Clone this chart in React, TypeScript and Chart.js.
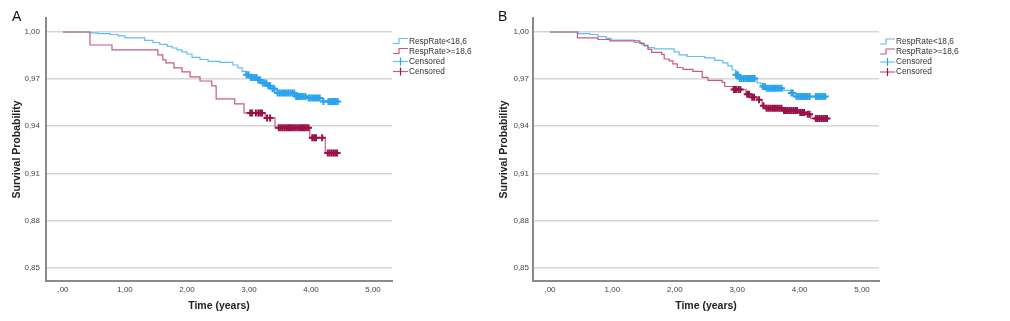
import React, { useEffect, useRef } from "react";
import { Chart, registerables } from "chart.js";
Chart.register(...registerables);

// ---------- data ----------
const xTickValues = [0, 1, 2, 3, 4, 5];
const xTickLabels = [",00", "1,00", "2,00", "3,00", "4,00", "5,00"];
const yTickValues = [0.85, 0.88, 0.91, 0.94, 0.97, 1.0];
const yTickLabels = ["0,85", "0,88", "0,91", "0,94", "0,97", "1,00"];
const groupLabels = ["RespRate<18,6", "RespRate>=18,6"];
const censoredLabel = "Censored";
const xTitle = "Time (years)";
const yTitle = "Survival Probability";

// Panel A, RespRate<18,6
const aLowTime = [0, 0.435, 0.565, 0.76, 0.89, 1.0, 1.32, 1.45, 1.56, 1.68, 1.76, 1.84, 1.92, 2.0, 2.08, 2.21, 2.34, 2.53, 2.74, 2.82, 2.89, 2.95, 3.02, 3.13, 3.21, 3.29, 3.37, 3.45, 3.74, 3.94, 4.18, 4.45];
const aLowSurv = [1, 0.9994, 0.9989, 0.9984, 0.9975, 0.9962, 0.9946, 0.9933, 0.9921, 0.9908, 0.9898, 0.9886, 0.9873, 0.986, 0.9838, 0.9825, 0.9813, 0.9806, 0.979, 0.9771, 0.9749, 0.9727, 0.9711, 0.9695, 0.9676, 0.9657, 0.9638, 0.9612, 0.959, 0.958, 0.9558, 0.9558];
const aLowCensored = [2.96, 2.99, 3.03, 3.06, 3.09, 3.12, 3.15, 3.18, 3.22, 3.25, 3.28, 3.31, 3.34, 3.38, 3.41, 3.46, 3.49, 3.52, 3.55, 3.58, 3.61, 3.64, 3.67, 3.7, 3.73, 3.76, 3.79, 3.82, 3.85, 3.88, 3.91, 3.96, 3.99, 4.02, 4.05, 4.08, 4.11, 4.14, 4.2, 4.28, 4.31, 4.34, 4.37, 4.4, 4.43];

// Panel A, RespRate>=18,6
const aHighTime = [0, 0.435, 0.79, 1.53, 1.61, 1.66, 1.79, 1.92, 2.05, 2.21, 2.4, 2.47, 2.77, 2.92, 3.26, 3.42, 3.98, 4.23, 4.44];
const aHighSurv = [1, 0.9917, 0.9886, 0.9854, 0.9822, 0.9803, 0.9771, 0.9746, 0.9714, 0.9688, 0.9657, 0.9574, 0.9542, 0.9485, 0.9453, 0.939, 0.9326, 0.923, 0.923];
const aHighCensored = [3.02, 3.05, 3.11, 3.15, 3.18, 3.21, 3.29, 3.34, 3.48, 3.51, 3.54, 3.57, 3.6, 3.63, 3.66, 3.69, 3.72, 3.75, 3.78, 3.81, 3.84, 3.87, 3.9, 3.93, 3.96, 4.02, 4.05, 4.08, 4.18, 4.27, 4.3, 4.33, 4.36, 4.39, 4.42];

// Panel B, RespRate<18,6
const bLowTime = [0, 0.45, 0.64, 0.77, 0.9, 0.98, 1.35, 1.47, 1.57, 1.67, 1.99, 2.07, 2.2, 2.48, 2.64, 2.77, 2.85, 2.92, 2.98, 3.03, 3.32, 3.38, 3.46, 3.73, 3.86, 3.91, 4.44];
const bLowSurv = [1, 0.999, 0.9984, 0.9971, 0.9959, 0.9949, 0.9933, 0.9917, 0.9901, 0.9892, 0.9873, 0.9854, 0.9844, 0.9835, 0.9819, 0.9803, 0.9784, 0.9758, 0.9727, 0.9704, 0.9676, 0.9653, 0.9642, 0.9628, 0.9612, 0.9589, 0.9589];
const bLowCensored = [2.98, 3.01, 3.04, 3.07, 3.1, 3.13, 3.16, 3.19, 3.22, 3.25, 3.28, 3.41, 3.44, 3.47, 3.5, 3.53, 3.56, 3.59, 3.62, 3.65, 3.68, 3.71, 3.87, 3.89, 3.95, 3.98, 4.01, 4.04, 4.07, 4.1, 4.13, 4.16, 4.26, 4.29, 4.32, 4.35, 4.38, 4.41];

// Panel B, RespRate>=18,6
const bHighTime = [0, 0.44, 0.77, 0.96, 1.44, 1.51, 1.57, 1.63, 1.79, 1.83, 1.91, 1.97, 2.04, 2.13, 2.29, 2.44, 2.53, 2.76, 2.8, 2.93, 3.14, 3.22, 3.32, 3.4, 3.45, 3.73, 3.99, 4.1, 4.18, 4.45];
const bHighSurv = [1, 0.9962, 0.9952, 0.9943, 0.9927, 0.9911, 0.9889, 0.987, 0.9857, 0.9828, 0.9816, 0.9797, 0.9774, 0.9762, 0.9749, 0.9711, 0.9692, 0.9679, 0.9653, 0.9634, 0.9603, 0.9584, 0.9568, 0.953, 0.9515, 0.9501, 0.9488, 0.9476, 0.945, 0.945];
const bHighCensored = [2.95, 2.98, 3.02, 3.05, 3.16, 3.19, 3.24, 3.27, 3.35, 3.42, 3.47, 3.5, 3.53, 3.56, 3.59, 3.62, 3.65, 3.68, 3.71, 3.75, 3.78, 3.81, 3.84, 3.87, 3.9, 3.93, 3.96, 4.01, 4.04, 4.07, 4.13, 4.16, 4.26, 4.29, 4.32, 4.35, 4.38, 4.41, 4.44];

// ---------- styles ----------
const FONT = '"Liberation Sans", Arial, sans-serif';
const BLUE_LINE = "#62bdf4";
const BLUE_CENS = "#2aa3ee";
const RED_LINE = "#c85b7f";
const RED_CENS = "#9a1048";

const toXY = (ts: number[], ss: number[]) => ts.map((t, i) => ({ x: t, y: ss[i] }));
const survAt = (ts: number[], ss: number[], t: number) => {
  let s = ss[0];
  for (let i = 0; i < ts.length; i++) if (ts[i] <= t) s = ss[i];
  return s;
};

type PanelProps = {
  letter: string;
  left: number;
  width: number;
  yAxisWidth: number;
  padRight: number;
  titlePadTop: number;
  tickPad: number;
  xMin: number;
  xMax: number;
  letterX: number;
  legendX: number;
  legendY: number;
  lowT: number[];
  lowS: number[];
  lowC: number[];
  highT: number[];
  highS: number[];
  highC: number[];
};

function Panel(p: PanelProps) {
  const ref = useRef<HTMLCanvasElement | null>(null);
  useEffect(() => {
    if (!ref.current) return;
    const overlay = {
      id: "overlay" + p.letter,
      afterDraw(chart: any) {
        const ctx = chart.ctx;
        ctx.save();
        ctx.fillStyle = "#111";
        ctx.font = `14px ${FONT}`;
        ctx.textBaseline = "alphabetic";
        ctx.textAlign = "left";
        ctx.fillText(p.letter, p.letterX, 21);
        const items = [
          { kind: "step", color: BLUE_LINE, label: groupLabels[0] },
          { kind: "step", color: RED_LINE, label: groupLabels[1] },
          { kind: "cross", color: BLUE_CENS, line: BLUE_LINE, label: censoredLabel },
          { kind: "cross", color: RED_CENS, line: RED_LINE, label: censoredLabel },
        ];
        ctx.font = `8.3px ${FONT}`;
        ctx.textBaseline = "middle";
        items.forEach((it: any, i) => {
          const y = p.legendY + i * 10;
          const x0 = p.legendX;
          ctx.lineWidth = 1.2;
          ctx.beginPath();
          if (it.kind === "step") {
            ctx.strokeStyle = it.color;
            ctx.moveTo(x0, y + 2);
            ctx.lineTo(x0 + 6, y + 2);
            ctx.lineTo(x0 + 6, y - 3);
            ctx.lineTo(x0 + 15, y - 3);
            ctx.stroke();
          } else {
            ctx.strokeStyle = it.line;
            ctx.moveTo(x0, y);
            ctx.lineTo(x0 + 15, y);
            ctx.stroke();
            ctx.beginPath();
            ctx.strokeStyle = it.color;
            ctx.moveTo(x0 + 7.5, y - 4);
            ctx.lineTo(x0 + 7.5, y + 4);
            ctx.stroke();
          }
          ctx.fillStyle = "#333";
          ctx.fillText(it.label, x0 + 16, y);
        });
        ctx.restore();
      },
    };
    const chart = new Chart(ref.current, {
      type: "scatter",
      data: {
        datasets: [
          {
            label: censoredLabel + " high",
            data: p.highC.map((t) => ({ x: t, y: survAt(p.highT, p.highS, t) })),
            showLine: false,
            pointStyle: "cross",
            pointRadius: 3.5,
            pointBorderWidth: 2,
            borderColor: RED_CENS,
            backgroundColor: RED_CENS,
          },
          {
            label: censoredLabel + " low",
            data: p.lowC.map((t) => ({ x: t, y: survAt(p.lowT, p.lowS, t) })),
            showLine: false,
            pointStyle: "cross",
            pointRadius: 3.5,
            pointBorderWidth: 2,
            borderColor: BLUE_CENS,
            backgroundColor: BLUE_CENS,
          },
          {
            label: groupLabels[1],
            data: toXY(p.highT, p.highS),
            showLine: true,
            stepped: "before",
            pointRadius: 0,
            borderWidth: 1.2,
            borderColor: RED_LINE,
            fill: false,
          },
          {
            label: groupLabels[0],
            data: toXY(p.lowT, p.lowS),
            showLine: true,
            stepped: "before",
            pointRadius: 0,
            borderWidth: 1.2,
            borderColor: BLUE_LINE,
            fill: false,
          },
        ],
      } as any,
      options: {
        animation: false,
        responsive: false,
        events: [],
        layout: { padding: { top: 18, right: p.padRight, left: 0, bottom: 0 } },
        plugins: { legend: { display: false }, tooltip: { enabled: false } },
        scales: {
          x: {
            type: "linear",
            min: p.xMin,
            max: p.xMax,
            afterBuildTicks: (s: any) => {
              s.ticks = xTickValues.map((v) => ({ value: v }));
            },
            afterFit: (s: any) => {
              s.height = 40;
            },
            grid: { display: false, drawTicks: false },
            border: { display: true, color: "#8a8a8a", width: 2 },
            ticks: {
              padding: 4,
              color: "#444",
              font: { size: 8, family: FONT },
              maxRotation: 0,
              autoSkip: false,
              callback: (_v: any, i: number) => xTickLabels[i],
            },
            title: {
              display: true,
              text: xTitle,
              color: "#222",
              font: { size: 10.5, weight: "bold", family: FONT },
              padding: { top: 0, bottom: 9 },
            },
          },
          y: {
            type: "linear",
            min: 0.8415,
            max: 1.0089,
            afterBuildTicks: (s: any) => {
              s.ticks = yTickValues.map((v) => ({ value: v }));
            },
            afterFit: (s: any) => {
              s.width = p.yAxisWidth;
            },
            grid: { display: true, drawTicks: false, color: "#d6d6d6", lineWidth: 1.5 },
            border: { display: true, color: "#8a8a8a", width: 2 },
            ticks: {
              padding: p.tickPad,
              color: "#444",
              font: { size: 8, family: FONT },
              autoSkip: false,
              callback: (_v: any, i: number) => yTickLabels[i],
            },
            title: {
              display: true,
              text: yTitle,
              color: "#222",
              font: { size: 10.5, weight: "bold", family: FONT },
              padding: { top: p.titlePadTop, bottom: 0 },
            },
          },
        },
      } as any,
      plugins: [overlay as any],
    });
    return () => chart.destroy();
  }, []);
  return (
    <canvas
      ref={ref}
      width={p.width}
      height={321}
      style={{ position: "absolute", left: p.left, top: 0, width: p.width, height: 321 }}
    />
  );
}

export default function App() {
  return (
    <div style={{ position: "absolute", left: 0, top: 0, width: 1010, height: 321, background: "#fff", overflow: "hidden" }}>
      <Panel
        letter="A"
        left={0}
        width={490}
        yAxisWidth={46}
        padRight={98}
        titlePadTop={11}
        tickPad={6}
        xMin={-0.274}
        xMax={5.306}
        letterX={12}
        legendX={393}
        legendY={41.5}
        lowT={aLowTime}
        lowS={aLowSurv}
        lowC={aLowCensored}
        highT={aHighTime}
        highS={aHighSurv}
        highC={aHighCensored}
      />
      <Panel
        letter="B"
        left={490}
        width={520}
        yAxisWidth={43}
        padRight={131}
        titlePadTop={8}
        tickPad={4}
        xMin={-0.272}
        xMax={5.272}
        letterX={8}
        legendX={390}
        legendY={42}
        lowT={bLowTime}
        lowS={bLowSurv}
        lowC={bLowCensored}
        highT={bHighTime}
        highS={bHighSurv}
        highC={bHighCensored}
      />
    </div>
  );
}
